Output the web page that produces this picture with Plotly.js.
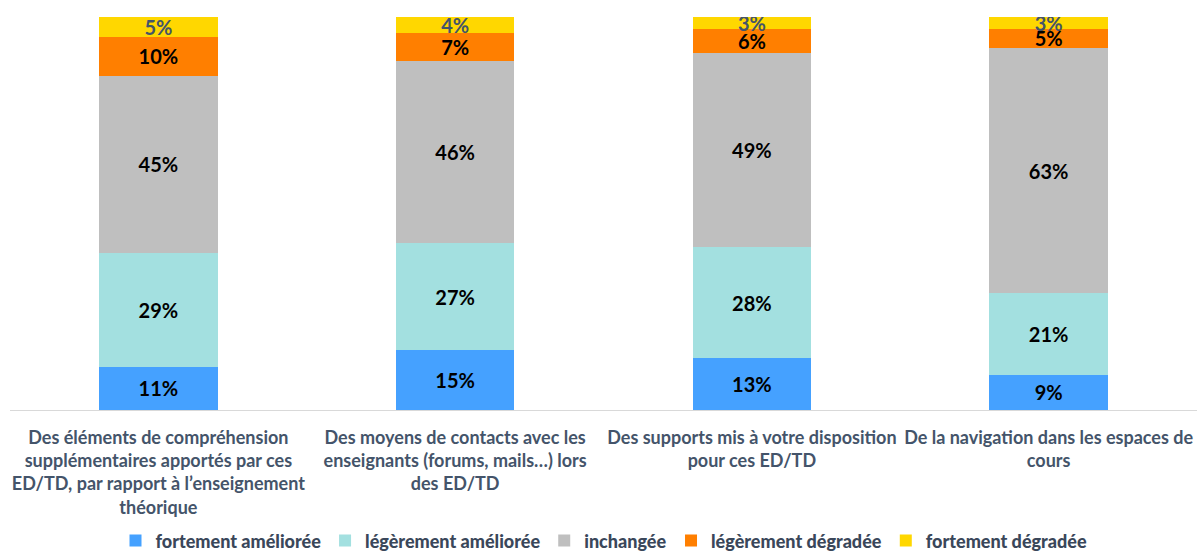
<!DOCTYPE html>
<html><head><meta charset="utf-8">
<script src="https://cdn.plot.ly/plotly-3.0.1.min.js"></script>
<style>html,body{margin:0;padding:0;background:#fff}#chart{width:1197px;height:555px}
#chart .legendtext{font-weight:900 !important}</style>
</head><body><div id="chart"></div>
<script>
const categories = [
  "Des éléments de compréhension<br>supplémentaires apportés par ces<br>ED/TD, par rapport à l’enseignement<br>théorique",
  "Des moyens de contacts avec les<br>enseignants (forums, mails…) lors<br>des ED/TD",
  "Des supports mis à votre disposition<br>pour ces ED/TD",
  "De la navigation dans les espaces de<br>cours"
];
const seriesNames = ["fortement améliorée","légèrement améliorée","inchangée","légèrement dégradée","fortement dégradée"];
const fortementAmelioree = [11, 15, 13, 9];
const legerementAmelioree = [29, 27, 28, 21];
const inchangee = [45, 46, 49, 63];
const legerementDegradee = [10, 7, 6, 5];
const fortementDegradee = [5, 4, 3, 3];

const seriesValues = [fortementAmelioree, legerementAmelioree, inchangee, legerementDegradee, fortementDegradee];
const colors = ["#45A1FF","#A3E0E0","#BFBFBF","#FF7F00","#FFD700"];
const textColors = ["#000000","#000000","#000000","#000000","#44546A"];
const fontFam = "Lato, 'Open Sans', sans-serif";

const traces = seriesValues.map((vals, i) => ({
  type: "bar",
  name: seriesNames[i],
  x: categories,
  y: vals,
  text: vals.map(v => v + "%"),
  textposition: "inside",
  insidetextanchor: "middle",
  constraintext: "none",
  textangle: 0,
  textfont: {family: fontFam, size: 20, color: textColors[i], weight: "bold"},
  marker: {color: colors[i], line: {width: 0}},
  hoverinfo: "skip"
}));

const layout = {
  width: 1197, height: 555,
  margin: {l: 10, r: 0, t: 17, b: 145, autoexpand: false},
  barmode: "stack",
  barnorm: "percent",
  bargap: 0.6,
  paper_bgcolor: "#fff", plot_bgcolor: "#fff",
  font: {family: fontFam, size: 18, color: "#44546A"},
  showlegend: true,
  legend: {
    orientation: "h", x: 0.5, xanchor: "center", y: -0.333, yanchor: "middle",
    font: {family: fontFam, size: 18, color: "#3A475A", weight: 700},
    traceorder: "normal", itemwidth: 30
  },
  xaxis: {
    showline: true, linecolor: "#D9D9D9", linewidth: 1,
    ticks: "", showgrid: false, automargin: false,
    ticklabelstandoff: 11,
    tickfont: {family: fontFam, size: 18, color: "#44546A", weight: "bold"},
    fixedrange: true
  },
  yaxis: {
    range: [0, 100], showticklabels: false, showgrid: false, zeroline: false,
    showline: false, ticks: "", fixedrange: true, automargin: false
  }
};
Plotly.newPlot("chart", traces, layout, {displayModeBar: false, staticPlot: true});
</script></body></html>
